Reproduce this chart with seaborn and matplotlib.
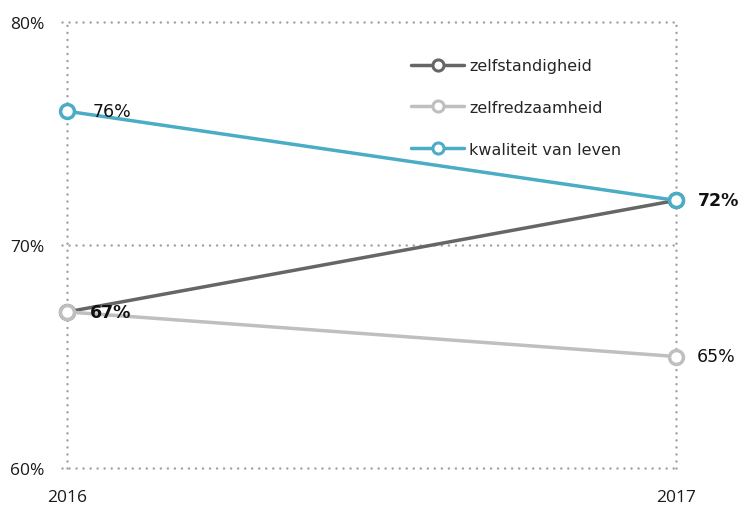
import pandas as pd
from matplotlib import pyplot as plt
from matplotlib.lines import Line2D
from matplotlib.ticker import FuncFormatter
import seaborn as sns

# data
jaren = [2016, 2017]
reeksen = ['zelfstandigheid', 'zelfredzaamheid', 'kwaliteit van leven']
zelfstandigheid = [67, 72]
zelfredzaamheid = [67, 65]
kwaliteit = [76, 72]
kleuren = ['#666666', '#BFBFBF', '#4BACC6']

df = pd.DataFrame({
    'jaar': jaren * 3,
    'waarde': zelfstandigheid + zelfredzaamheid + kwaliteit,
    'reeks': [r for r in reeksen for _ in jaren],
})

sns.set_style('white')
plt.rcParams['font.family'] = ['Open Sans', 'DejaVu Sans']

fig = plt.figure(figsize=(7.41, 5.06), dpi=100)
ax = fig.add_axes([67 / 741, 1 - 469 / 506, (676 - 67) / 741, (469 - 23) / 506])

sns.lineplot(data=df, x='jaar', y='waarde', hue='reeks', hue_order=reeksen,
             palette=kleuren, marker='o', markersize=10, markerfacecolor='white',
             markeredgewidth=2.5, linewidth=2.5, legend=False, ax=ax, zorder=3)
for ln, c in zip(ax.lines, kleuren):
    ln.set_markeredgecolor(c)
    ln.set_clip_on(False)

ax.set_xlim(2016, 2017)
ax.set_ylim(60, 80)
ax.set_xticks(jaren)
ax.set_yticks([60, 70, 80])
ax.yaxis.set_major_formatter(FuncFormatter(lambda v, p: f'{v:.0f}%'))
ax.set_xlabel('')
ax.set_ylabel('')
for s in ax.spines.values():
    s.set_visible(False)
ax.tick_params(axis='both', length=0, labelsize=12.5, colors='#1a1a1a')
ax.tick_params(axis='y', pad=16)
ax.tick_params(axis='x', pad=15)

# gestippelde rasterlijnen
stip = dict(color='#A0A0A0', linewidth=1.8, linestyle=(0, (0.01, 2.8)),
            dash_capstyle='round', zorder=1, clip_on=False)
for y in [60, 70, 80]:
    ax.plot([2015.992, 2017], [y, y], **stip)
for x in jaren:
    ax.axvline(x, ymin=0, ymax=1, **stip)

# waardelabels
lbl = dict(textcoords='offset pixels', va='center', ha='left', fontsize=12.5,
           color='#111111', family='DejaVu Sans')
ax.annotate('76%', (2016, 76), xytext=(26, 0), **lbl)
ax.annotate('67%', (2016, 67), xytext=(23, 0), fontweight='bold', **lbl)
ax.annotate('72%', (2017, 72), xytext=(22, 0), fontweight='bold', **lbl)
ax.annotate('65%', (2017, 65), xytext=(21, 0), **lbl)

handles = [Line2D([], [], color=c, linewidth=2.5, marker='o', markersize=8,
                  markerfacecolor='white', markeredgecolor=c, markeredgewidth=2.2)
           for c in kleuren]
ax.legend(handles=handles, labels=reeksen, loc='upper left',
          bbox_to_anchor=(405 / 741, 1 - 53 / 506), bbox_transform=fig.transFigure,
          frameon=False, prop={'family': 'DejaVu Sans', 'size': 11.5},
          labelspacing=1.67, handlelength=3.3, handletextpad=0.3, borderaxespad=0)

fig.savefig('out.png', dpi=100)
